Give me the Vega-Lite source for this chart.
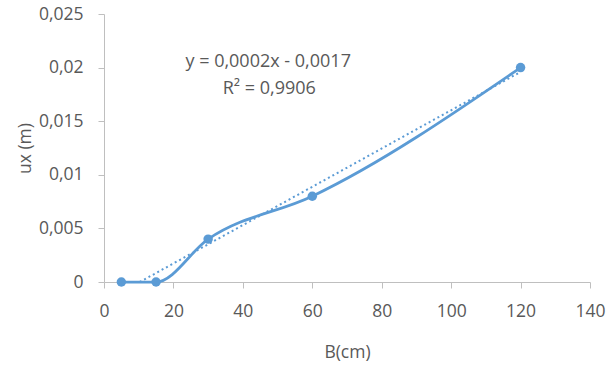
{
  "$schema": "https://vega.github.io/schema/vega-lite/v6.json",
  "width": 486,
  "height": 268,
  "autosize": {"type": "none"},
  "padding": {"left": 104, "top": 14, "right": 18, "bottom": 91},
  "background": "white",
  "config": {
    "view": {"stroke": null},
    "font": "Open Sans",
    "axis": {
      "grid": false,
      "domainColor": "#bfbfbf",
      "tickColor": "#bfbfbf",
      "labelColor": "#595959",
      "titleColor": "#595959",
      "labelFont": "Open Sans",
      "titleFont": "Open Sans",
      "labelFontSize": 17.5,
      "titleFontSize": 17.5,
      "titleFontWeight": "normal",
      "labelFlush": false,
      "labelOverlap": false,
      "tickSize": 6
    }
  },
  "datasets": {
    "pts": [
      {"B": 5, "ux": 0},
      {"B": 15, "ux": 0},
      {"B": 30, "ux": 0.004},
      {"B": 60, "ux": 0.008},
      {"B": 120, "ux": 0.02}
    ],
    "trend": [
      {"B": 10.3, "ux": 0},
      {"B": 120, "ux": 0.0196}
    ],
    "labels": [
      {"B": 47.3, "ux": 0.0205, "t": "y = 0,0002x - 0,0017"},
      {"B": 47.6, "ux": 0.018, "t": "R² = 0,9906"}
    ]
  },
  "layer": [
    {
      "data": {"name": "trend"},
      "mark": {"type": "line", "color": "#5b9bd5", "strokeWidth": 2, "strokeDash": [2, 3]},
      "encoding": {
        "x": {"field": "B", "type": "quantitative", "scale": {"domain": [0, 140], "nice": false}, "axis": {"values": [0, 20, 40, 60, 80, 100, 120, 140], "title": "B(cm)", "labelPadding": 14, "titlePadding": 24}},
        "y": {"field": "ux", "type": "quantitative", "scale": {"domain": [0, 0.025], "nice": false}, "axis": {"values": [0, 0.005, 0.01, 0.015, 0.02, 0.025], "labelExpr": "replace(format(datum.value, '~g'), '.', ',')", "title": "ux (m)", "labelPadding": 15, "titlePadding": 4}}
      }
    },
    {
      "data": {"name": "pts"},
      "mark": {"type": "line", "color": "#5b9bd5", "strokeWidth": 2.75, "interpolate": "monotone"},
      "encoding": {
        "x": {"field": "B", "type": "quantitative"},
        "y": {"field": "ux", "type": "quantitative"}
      }
    },
    {
      "data": {"name": "pts"},
      "mark": {"type": "point", "filled": true, "color": "#5b9bd5", "size": 90, "opacity": 1},
      "encoding": {
        "x": {"field": "B", "type": "quantitative"},
        "y": {"field": "ux", "type": "quantitative"}
      }
    },
    {
      "data": {"name": "labels"},
      "mark": {"type": "text", "color": "#595959", "fontSize": 18, "font": "Open Sans", "align": "center", "baseline": "middle"},
      "encoding": {
        "x": {"field": "B", "type": "quantitative"},
        "y": {"field": "ux", "type": "quantitative"},
        "text": {"field": "t"}
      }
    }
  ]
}
